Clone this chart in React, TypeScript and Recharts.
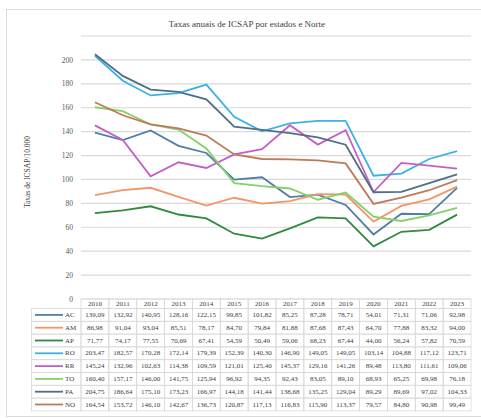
import React from 'react';
import { LineChart, Line, XAxis, YAxis, CartesianGrid } from 'recharts';

const years = ['2010', '2011', '2012', '2013', '2014', '2015', '2016', '2017', '2018', '2019', '2020', '2021', '2022', '2023'];

const AC = [139.09, 132.92, 140.95, 128.16, 122.15, 99.85, 101.82, 85.25, 87.28, 78.71, 54.01, 71.31, 71.06, 92.98];
const AM = [86.98, 91.04, 93.04, 85.51, 78.17, 84.7, 79.84, 81.88, 87.68, 87.43, 64.7, 77.88, 83.32, 94.0];
const AP = [71.77, 74.17, 77.55, 70.69, 67.41, 54.59, 50.49, 59.06, 68.23, 67.44, 44.0, 56.24, 57.82, 70.59];
const RO = [203.47, 182.57, 170.28, 172.14, 179.39, 152.39, 140.3, 146.9, 149.05, 149.05, 103.14, 104.88, 117.12, 123.71];
const RR = [145.24, 132.96, 102.63, 114.38, 109.59, 121.01, 125.4, 145.37, 129.16, 141.26, 89.48, 113.8, 111.61, 109.06];
const TO = [160.4, 157.17, 146.0, 141.75, 125.94, 96.92, 94.35, 92.43, 83.05, 89.1, 68.93, 65.25, 69.98, 76.18];
const PA = [204.75, 186.64, 175.1, 173.23, 166.97, 144.18, 141.44, 138.68, 135.25, 129.04, 89.29, 89.69, 97.02, 104.33];
const NO = [164.54, 153.72, 146.1, 142.67, 136.73, 120.87, 117.13, 116.83, 115.9, 113.37, 79.57, 84.8, 90.98, 99.49];

const seriesNames = ['AC', 'AM', 'AP', 'RO', 'RR', 'TO', 'PA', 'NO'];
const seriesValues = [AC, AM, AP, RO, RR, TO, PA, NO];
const seriesColors = ['#4e7fa6', '#f59565', '#2f8a3f', '#3ab2e6', '#c45ec6', '#86d06a', '#4f6f86', '#bd7a58'];

const yTicks = [0, 20, 40, 60, 80, 100, 120, 140, 160, 180, 200];

const data = years.map((year, i) => {
  const row: any = { year };
  seriesNames.forEach((name, k) => {
    row[name] = seriesValues[k][i];
  });
  return row;
});

const fmt = (v: number) => v.toFixed(2).replace('.', ',');

// layout
const W = 481;
const H = 418;
const PLOT_LEFT = 81;
const PLOT_W = 390;
const PLOT_BOTTOM = 299;
const HEADER_H = 9.5;
const ROW_H = 12.8;
const BAND = PLOT_W / years.length;
const FONT = '"Liberation Serif", "DejaVu Serif", serif';
const GRID = '#d9d9d9';

// one table column under each year, hung from the x axis ticks
const TableColumn = (props: any) => {
  const { x, y, payload } = props;
  const i = payload.index;
  const left = x - BAND / 2;
  return (
    <g>
      <rect x={left} y={y} width={BAND} height={HEADER_H} fill="none" stroke={GRID} strokeWidth={0.8} />
      <text x={x} y={y + HEADER_H / 2} textAnchor="middle" dominantBaseline="central" fontSize={7} fontFamily={FONT} fill="#404040">
        {payload.value}
      </text>
      {seriesValues.map((vals, k) => {
        const top = y + HEADER_H + k * ROW_H;
        return (
          <g key={k}>
            <rect x={left} y={top} width={BAND} height={ROW_H} fill="none" stroke={GRID} strokeWidth={0.8} />
            <text x={x} y={top + ROW_H / 2} textAnchor="middle" dominantBaseline="central" fontSize={7} fontFamily={FONT} fill="#404040">
              {fmt(vals[i])}
            </text>
          </g>
        );
      })}
    </g>
  );
};

export default function App() {
  const legendLeft = 31.5;
  const legendW = PLOT_LEFT - legendLeft;
  return (
    <div style={{ position: 'absolute', left: 0, top: 0, width: W, height: H, background: '#fff' }}>
      <div style={{ position: 'absolute', left: 6, top: 9, width: 476, height: 406, border: '1px solid #dcdcdc' }} />
      <div style={{ position: 'absolute', left: 0, top: 0 }}>
        <LineChart width={W} height={H} data={data} margin={{ top: 36, right: 10, bottom: 9, left: 51 }}>
          <CartesianGrid vertical={false} stroke={GRID} strokeWidth={1.2} />
          <XAxis
            dataKey="year"
            height={110}
            axisLine={false}
            tickLine={false}
            tickSize={0}
            tickMargin={0}
            interval={0}
            padding={{ left: BAND / 2, right: BAND / 2 }}
            tick={<TableColumn />}
          />
          <YAxis
            width={30}
            domain={[0, 220]}
            ticks={yTicks}
            axisLine={false}
            tickLine={false}
            tick={{ fontSize: 7.5, fill: '#595959', fontFamily: FONT }}
          />
          {seriesNames.map((name, k) => (
            <Line
              key={name}
              type="linear"
              dataKey={name}
              stroke={seriesColors[k]}
              strokeWidth={1.8}
              dot={false}
              isAnimationActive={false}
            />
          ))}
        </LineChart>
      </div>
      <svg width={W} height={H} style={{ position: 'absolute', left: 0, top: 0, pointerEvents: 'none' }}>
        <text x={247} y={27} textAnchor="middle" fontSize={9} fontFamily={FONT} fill="#404040">
          Taxas anuais de ICSAP por estados e Norte
        </text>
        <text
          x={27}
          y={172}
          transform="rotate(-90 27 172)"
          textAnchor="middle"
          dominantBaseline="central"
          fontSize={7.5}
          fontFamily={FONT}
          fill="#404040"
        >
          Taxas de ICSAP/10.000
        </text>
        {seriesNames.map((name, k) => {
          const top = PLOT_BOTTOM + HEADER_H + k * ROW_H;
          const cy = top + ROW_H / 2;
          return (
            <g key={name}>
              <rect x={legendLeft} y={top} width={legendW} height={ROW_H} fill="none" stroke={GRID} strokeWidth={0.8} />
              <line x1={35} x2={63} y1={cy} y2={cy} stroke={seriesColors[k]} strokeWidth={1.8} />
              <text x={65} y={cy} dominantBaseline="central" fontSize={7} fontFamily={FONT} fill="#404040">
                {name}
              </text>
            </g>
          );
        })}
      </svg>
    </div>
  );
}
